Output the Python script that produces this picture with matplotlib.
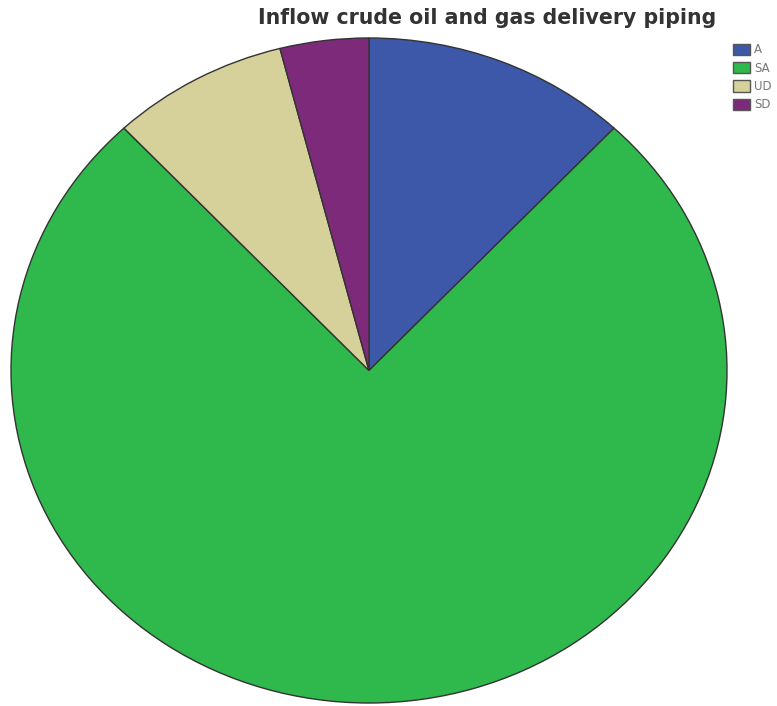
import matplotlib.pyplot as plt
from matplotlib.patches import Patch

labels = ["A", "SA", "UD", "SD"]
values = [12, 76, 8, 4]
colors = ["#3d58a8", "#2fb84b", "#d6d09b", "#7e2a7b"]

fig = plt.figure(figsize=(7.77, 7.06), dpi=100)
ax = fig.add_axes([11 / 777, 3 / 706, 716 / 777, 665 / 706])

ax.pie(values, colors=colors, startangle=90, counterclock=False,
       wedgeprops=dict(edgecolor="#333333", linewidth=1.0))
ax.set_aspect("auto")
ax.set_xlim(-1, 1)
ax.set_ylim(-1, 1)
ax.axis("off")

fig.text(487 / 777, 1 - 18 / 706, "Inflow crude oil and gas delivery piping",
         ha="center", va="center", fontsize=14.8, fontweight="bold", color="#333333")

handles = [Patch(facecolor=c, edgecolor="#555555", label=l) for c, l in zip(colors, labels)]
fig.legend(handles=handles, loc="upper left", bbox_to_anchor=(724 / 777, 1 - 34 / 706),
           frameon=False, fontsize=8.5, handlelength=1.4, handleheight=1.1,
           handletextpad=0.35, labelspacing=0.45, borderpad=0.3, labelcolor="#777777")

fig.savefig("out.png", dpi=100)
